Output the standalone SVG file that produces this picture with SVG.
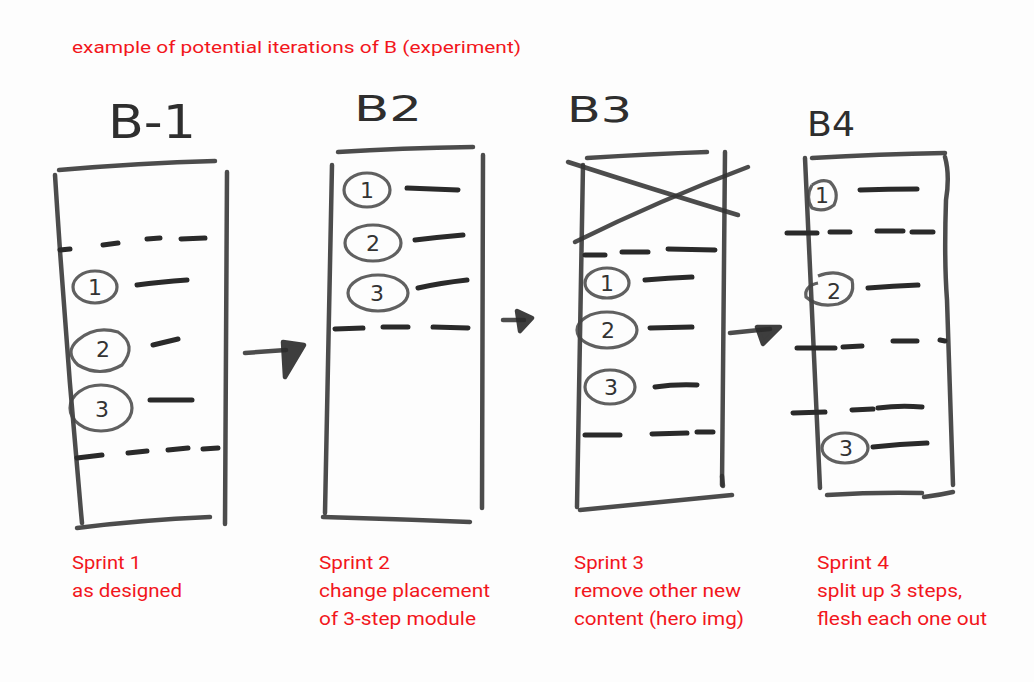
<svg xmlns="http://www.w3.org/2000/svg" width="1034" height="682" viewBox="0 0 1034 682">
<style>
.cap{font-family:"Liberation Sans Narrow","Roboto","Liberation Sans",sans-serif;fill:#f2161c;font-size:18px}
.ttl{font-family:"Liberation Sans Narrow","Roboto","Liberation Sans",sans-serif;fill:#f2161c;font-size:17px}
.pen{fill:none;stroke:#333;stroke-width:4.5;stroke-linecap:round;stroke-linejoin:round;opacity:0.88}
.head{fill:#2a2a2a;stroke:#2a2a2a;stroke-width:4.5;stroke-linejoin:round;opacity:0.9}
.dash{fill:none;stroke:#2a2a2a;stroke-width:5;stroke-linecap:round}
.ring{fill:none;stroke:#444;stroke-width:3.2;opacity:0.85}
.num{font-family:"DejaVu Sans",sans-serif;fill:#333;font-size:22px;text-anchor:middle}
.hand{font-family:"DejaVu Sans",sans-serif;fill:#2e2e2e;font-weight:normal}
</style>
<rect width="1034" height="682" fill="#fdfdfd"/>
<text class="ttl" x="72" y="53" textLength="449" lengthAdjust="spacingAndGlyphs">example of potential iterations of B (experiment)</text>

<g id="b1">
<text class="hand" x="108" y="138" font-size="46" textLength="88" lengthAdjust="spacingAndGlyphs">B-1</text>
<path class="pen" d="M59,170 Q140,163 215,161"/>
<path class="pen" d="M55,175 Q66,350 82,523"/>
<path class="pen" d="M227,172 Q226,350 225,524"/>
<path class="pen" d="M77,528 Q140,520 210,517"/>
<path class="dash" d="M60,250 L70,249 M103,245 L118,243 M147,239 L160,238 M181,239 L205,238"/>
<ellipse class="ring" cx="95" cy="287" rx="22" ry="16"/>
<text class="num" x="95" y="295">1</text>
<path class="dash" d="M137,285 Q160,282 187,280"/>
<path class="ring" d="M78,340 Q95,325 118,332 Q138,345 122,365 Q100,378 78,365 Q64,352 78,340"/>
<text class="num" x="103" y="357">2</text>
<path class="dash" d="M153,345 L178,339"/>
<ellipse class="ring" cx="101" cy="408" rx="31" ry="23"/>
<text class="num" x="102" y="417">3</text>
<path class="dash" d="M150,400 L192,400"/>
<path class="dash" d="M77,458 L102,455 M128,453 L147,451 M168,450 L188,448 M203,449 L218,448"/>
</g>

<g id="b2">
<text class="hand" x="354" y="121" font-size="36" textLength="68" lengthAdjust="spacingAndGlyphs">B2</text>
<path class="pen" d="M338,152 Q400,148 473,147"/>
<path class="pen" d="M332,165 Q328,340 325,513"/>
<path class="pen" d="M483,155 Q483,330 482,508"/>
<path class="pen" d="M323,517 Q395,519 470,522"/>
<ellipse class="ring" cx="367" cy="190" rx="23" ry="17"/>
<text class="num" x="367" y="198">1</text>
<path class="dash" d="M407,188 Q430,189 458,190"/>
<ellipse class="ring" cx="373" cy="243" rx="28" ry="18"/>
<text class="num" x="373" y="251">2</text>
<path class="dash" d="M415,240 Q440,237 463,235"/>
<ellipse class="ring" cx="378" cy="293" rx="30" ry="18"/>
<text class="num" x="377" y="301">3</text>
<path class="dash" d="M418,288 Q440,283 467,280"/>
<path class="dash" d="M335,329 L363,328 M383,327 L408,327 M433,327 L468,328"/>
</g>

<g id="b3">
<text class="hand" x="567" y="122" font-size="36" textLength="65" lengthAdjust="spacingAndGlyphs">B3</text>
<path class="pen" d="M587,158 Q650,154 707,152"/>
<path class="pen" d="M583,165 Q580,340 577,507"/>
<path class="pen" d="M725,152 Q723,320 722,485"/>
<path class="pen" d="M722,476 L723,486" stroke-width="7"/>
<path class="pen" d="M580,510 Q660,502 732,495"/>
<path class="pen" d="M568,162 Q655,190 738,215"/>
<path class="pen" d="M575,242 Q660,200 748,167"/>
<path class="dash" d="M585,255 L605,255 M622,252 L648,252 M668,249 L715,250"/>
<ellipse class="ring" cx="607" cy="283" rx="22" ry="15"/>
<text class="num" x="607" y="291">1</text>
<path class="dash" d="M645,280 Q668,278 692,277"/>
<ellipse class="ring" cx="607" cy="330" rx="30" ry="18"/>
<text class="num" x="608" y="338">2</text>
<path class="dash" d="M650,328 L692,327"/>
<ellipse class="ring" cx="610" cy="387" rx="25" ry="17"/>
<text class="num" x="611" y="395">3</text>
<path class="dash" d="M655,387 Q675,384 697,385"/>
<path class="dash" d="M585,435 L620,435 M652,434 L687,433 M697,432 L713,432"/>
</g>

<g id="b4">
<text class="hand" x="807" y="136" font-size="33" textLength="48" lengthAdjust="spacingAndGlyphs">B4</text>
<path class="pen" d="M812,158 Q880,154 945,153"/>
<path class="pen" d="M805,158 Q812,320 820,488"/>
<path class="pen" d="M945,157 Q950,175 946,200 Q944,260 947,300 Q950,400 953,485"/>
<path class="pen" d="M827,495 Q875,492 922,493 M924,497 Q940,495 953,492"/>
<path class="ring" d="M812,185 Q822,178 830,182 Q840,192 834,205 Q824,213 812,208 Q805,198 812,185"/>
<text class="num" x="822" y="203">1</text>
<path class="dash" d="M860,190 Q888,189 917,189"/>
<path class="dash" d="M787,233 L817,233 M830,232 L850,232 M877,231 L903,231 M912,232 L933,232"/>
<path class="ring" d="M818,276 Q838,268 852,280 Q856,298 838,304 Q818,308 806,297 Q804,286 818,283"/>
<text class="num" x="834" y="299">2</text>
<path class="dash" d="M868,288 Q893,286 918,285"/>
<path class="dash" d="M797,348 L835,348 M843,347 L862,346 M893,341 L917,341 M940,340 L945,341"/>
<path class="dash" d="M793,413 L825,412 M852,410 L873,409 M878,408 Q900,405 922,407"/>
<ellipse class="ring" cx="845" cy="448" rx="23" ry="15"/>
<text class="num" x="846" y="456">3</text>
<path class="dash" d="M873,447 Q900,444 927,443"/>
</g>

<g id="connectors">
<path class="pen" d="M245,353 L286,350"/>
<path class="head" d="M283,342 L304,345 L285,377 Z"/>
<path class="pen" d="M503,320 L524,320"/>
<path class="head" d="M517,311 L532,318 L520,331 Z"/>
<path class="pen" d="M730,333 L770,329"/>
<path class="head" d="M757,327 L780,327 L763,344 Z"/>
</g>

<g id="captions">
<text class="cap" x="72" y="569" textLength="69" lengthAdjust="spacingAndGlyphs">Sprint 1</text>
<text class="cap" x="72" y="597" textLength="110" lengthAdjust="spacingAndGlyphs">as designed</text>
<text class="cap" x="319" y="569" textLength="71" lengthAdjust="spacingAndGlyphs">Sprint 2</text>
<text class="cap" x="319" y="597" textLength="171" lengthAdjust="spacingAndGlyphs">change placement</text>
<text class="cap" x="319" y="625" textLength="157" lengthAdjust="spacingAndGlyphs">of 3-step module</text>
<text class="cap" x="574" y="569" textLength="70" lengthAdjust="spacingAndGlyphs">Sprint 3</text>
<text class="cap" x="574" y="597" textLength="167" lengthAdjust="spacingAndGlyphs">remove other new</text>
<text class="cap" x="574" y="625" textLength="170" lengthAdjust="spacingAndGlyphs">content (hero img)</text>
<text class="cap" x="817" y="569" textLength="72" lengthAdjust="spacingAndGlyphs">Sprint 4</text>
<text class="cap" x="817" y="597" textLength="145" lengthAdjust="spacingAndGlyphs">split up 3 steps,</text>
<text class="cap" x="817" y="625" textLength="170" lengthAdjust="spacingAndGlyphs">flesh each one out</text>
</g>
</svg>
